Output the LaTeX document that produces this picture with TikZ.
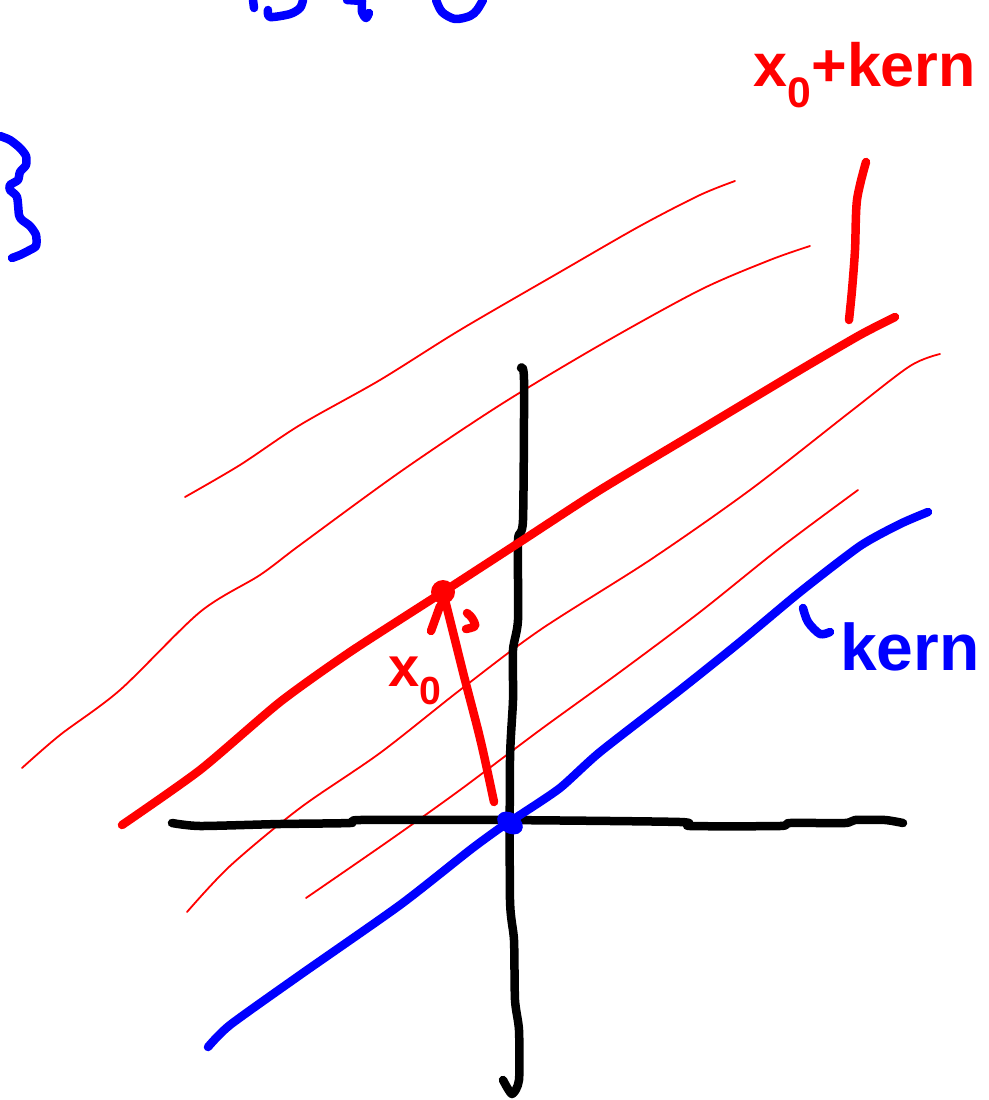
\documentclass[tikz,border=0pt]{standalone}
\usepackage{fontspec}
\setmainfont{Liberation Sans}
\begin{document}
\begin{tikzpicture}[x=1pt,y=-1pt,line cap=round,line join=round,
  pen/.style={line width=8.5pt},
  fine/.style={line width=1.8pt,draw=red},
  lbl/.style={inner sep=0pt,anchor=base west}]
\useasboundingbox (0,0) rectangle (988,1100);
% cut-off blue strokes at top
\draw[pen,blue] plot[smooth,tension=0.5] coordinates {(253,0) (254,8)};
\draw[pen,blue] plot[smooth,tension=0.5] coordinates {(268,10) (270,17) (290,14) (300,8) (303,0)};
\draw[pen,blue] plot[smooth,tension=0.5] coordinates {(347,0) (362,1)};
\draw[pen,blue] plot[smooth,tension=0.5] coordinates {(362,0) (362,12) (366,18) (369,13)};
\draw[pen,blue] plot[smooth,tension=0.5] coordinates {(436,0) (442,12) (455,19) (470,16) (477,10) (483,0)};
% brace at left
\draw[pen,blue] plot[smooth,tension=0.4] coordinates {(0,136) (10,140) (20,148) (26,156) (26,165) (20,172) (18,180) (10,185) (10,190) (17,197) (19,215) (22,220) (30,226) (36,235) (36,246) (28,251) (20,255) (12,258)};
% thin red lines
\draw[fine] plot[smooth,tension=0.5] coordinates {(185,497) (240,465) (300,425) (380,380) (460,330) (560,272) (640,226) (700,195) (735,181)};
\draw[fine] plot[smooth,tension=0.5] coordinates {(22,768) (60,735) (120,690) (200,612) (260,575) (300,545) (400,472) (500,405) (600,345) (700,290) (770,260) (810,246)};
\draw[fine] plot[smooth,tension=0.5] coordinates {(187,912) (230,866) (300,808) (380,753) (460,690) (540,630) (650,560) (750,490) (850,412) (910,366) (940,354)};
\draw[fine] plot[smooth,tension=0.5] coordinates {(306,898) (390,840) (460,790) (540,730) (620,672) (700,612) (780,548) (858,490)};
% axes
\draw[pen,black] plot[smooth,tension=0.4] coordinates {(172,823) (200,826) (280,824) (350,823) (360,820) (500,820) (680,822) (690,826) (780,826) (790,823) (845,823) (855,820) (885,820) (903,823)};
\draw[pen,black] plot[smooth,tension=0.4] coordinates {(521,368) (524,380) (523,520) (518,540) (518,620) (513,650) (513,700) (510,760) (510,900) (514,940) (515,1000) (519,1030) (519,1080) (512,1094) (503,1080)};
% kernel line
\coordinate (o) at (510,823);
\draw[pen,blue] plot[smooth,tension=0.4] coordinates {(208,1047) (230,1025) (300,975) (400,905) (470,850) (500,828) (520,815) (560,788) (600,752) (680,690) (740,642) (800,592) (860,546) (900,524) (928,512)};
\fill[blue,rotate around={-35:(o)}] (o) ellipse (14 and 10);
% shifted line x0 + kern
\coordinate (x0) at (443,592);
\draw[pen,red] plot[smooth,tension=0.4] coordinates {(122,825) (200,770) (280,702) (350,652) (443,592) (520,542) (600,490) (700,430) (800,370) (860,335) (895,317)};
\fill[red] (x0) circle (12);
% arrow x0
\coordinate (tail) at (494,802);
\draw[pen,red] plot[smooth,tension=0.5] coordinates {(tail) (485,760) (478,730) (465,680) (455,640) (x0)};
\draw[pen,red] (431,631) -- (440,606);
\draw[pen,red] plot[smooth,tension=0.5] coordinates {(466,629) (475,626) (472,618) (467,613)};
% red pointer to shifted line
\draw[pen,red] plot[smooth,tension=0.5] coordinates {(866,162) (857,200) (855,250) (852,290) (849,320)};
% pointer for kern
\draw[pen,blue] plot[smooth,tension=0.5] coordinates {(803,608) (808,622) (820,634) (830,632)};
% labels
\node[lbl,text=red,font=\bfseries\fontsize{61}{61}\selectfont] (lshift) at (753,86) {x\textsubscript{0}+kern};
\node[lbl,text=red,font=\bfseries\fontsize{56}{56}\selectfont] (lx0) at (388,686) {x\textsubscript{0}};
\node[lbl,text=blue,font=\bfseries\fontsize{66}{66}\selectfont] (lkern) at (840,670) {kern};
\end{tikzpicture}
\end{document}
